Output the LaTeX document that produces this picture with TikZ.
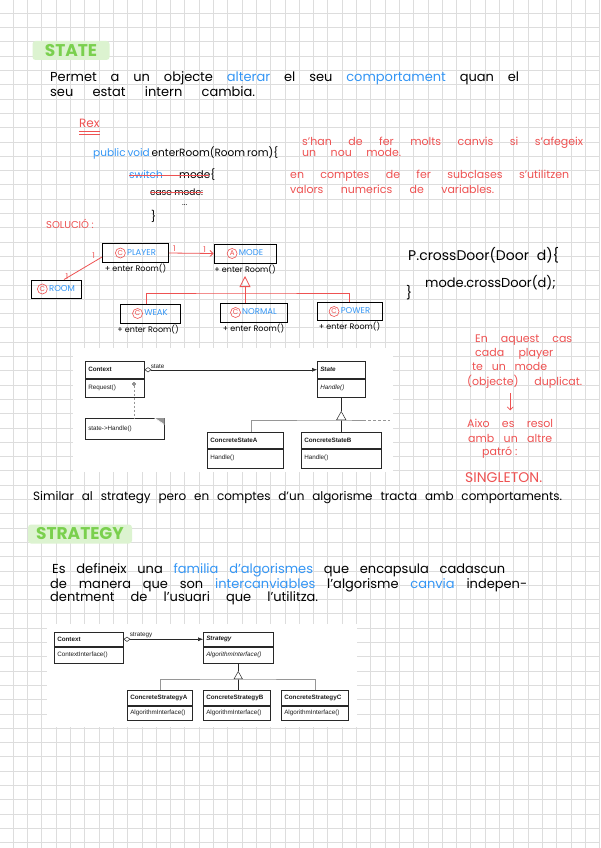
\documentclass[tikz,border=0pt]{standalone}
\usepackage{fontspec}
\setmainfont{Poppins}
\newfontfamily\umlfont{Liberation Sans}
\usetikzlibrary{positioning}
\usetikzlibrary{arrows.meta}

\newcommand{\circletter}[1]{\tikz[baseline=(cl.base)]\node[circle,draw=hred,text=hred,line width=0.6pt,inner sep=0pt,minimum size=10pt,font=\fontsize{7}{7}\selectfont](cl){#1};}
\newcommand{\hb}[1]{\textcolor{hblue}{#1}}
\newcommand{\spread}[2]{\makebox[#1][s]{#2}}

\begin{document}
\begin{tikzpicture}[x=1pt,y=-1pt,
  gridline/.style={draw=gridgray,line width=1pt},
  titlebox/.style={fill=titlebg,rounded corners=3pt,text=titlegreen,minimum height=19pt,inner sep=0pt,font=\bfseries\fontsize{17}{17}\selectfont},
  hand/.style={anchor=base west,inner sep=0pt,font=\fontsize{#1}{#1}\selectfont},
  hand/.default=12,
  rednote/.style={hand=#1,text=hred},
  rednote/.default=11,
  hbox/.style={draw=black,line width=0.9pt,inner sep=0pt,minimum height=19pt,font=\fontsize{8.5}{9}\selectfont},
  meth/.style={inner sep=0pt,font=\fontsize{8}{8}\selectfont},
  one/.style={text=hred,inner sep=1pt,font=\fontsize{8}{8}\selectfont},
  hline/.style={draw=hred,line width=0.8pt},
  umlbg/.style={fill=white,anchor=north west,inner sep=0pt},
  uhead/.style 2 args={draw=umlline,line width=0.5pt,anchor=north west,inner xsep=3pt,inner ysep=0pt,text width=#1,minimum height=#2,align=left,text=umltext,font=\umlfont\bfseries\fontsize{6.3}{7}\selectfont},
  ubody/.style 2 args={uhead={#1}{#2},font=\umlfont\fontsize{6.3}{7}\selectfont},
  ulabel/.style={inner sep=1pt,text=umltext,font=\umlfont\fontsize{6.3}{7}\selectfont},
  uconn/.style={draw=umlline,line width=0.5pt},
  uassoc/.style={uconn,{Diamond[open,length=7pt,width=5pt]}-{Latex[length=5pt,width=4pt]}},
]
\definecolor{gridgray}{RGB}{221,221,221}
\definecolor{hred}{RGB}{238,82,82}
\definecolor{hblue}{RGB}{52,150,245}
\definecolor{titlegreen}{RGB}{122,208,78}
\definecolor{titlebg}{RGB}{220,243,208}
\definecolor{umlline}{RGB}{40,40,40}
\definecolor{umltext}{RGB}{30,30,30}
\definecolor{umlgray}{RGB}{150,150,150}
\fill[white] (0,0) rectangle (600,848);
\useasboundingbox (0,0) rectangle (600,848);
% quadricula
\foreach \i in {0,...,41} \draw[gridline] (13.3+14.3*\i,0) -- (13.3+14.3*\i,848);
\foreach \j in {0,...,58} \draw[gridline] (0,13.3+14.3*\j) -- (600,13.3+14.3*\j);

% STATE
\node[titlebox,minimum width=77pt] (statetitle) at (71,50.5) {STATE};
\node[hand=13] (intro1) at (50,82) {\spread{469pt}{Permet a un objecte \hb{alterar} el seu \hb{comportament} quan el}};
\node[hand=13] (intro2) at (50,97) {\spread{205pt}{seu estat intern cambia.}};
\node[rednote=12] (rex) at (79,128) {Rex};
\draw[hline] ([yshift=-3pt]rex.base west) -- ([yshift=-3pt]rex.base east);
\draw[hline] ([yshift=-6pt]rex.base west) -- ([yshift=-6pt]rex.base east);
\node[hand=10.5] (code1) at (93,157) {\spread{185pt}{\hb{public void} enterRoom(Room rom)\{}};
\node[hand=10.5] (code2) at (129,178) {\spread{86pt}{\hb{switch} mode\{}};
\draw[hline] ([yshift=3pt]code2.base west) -- ([xshift=-6pt,yshift=3pt]code2.base east);
\node[hand=9] (code3) at (150,195) {case mode:};
\draw[hline] ([yshift=2.5pt]code3.base west) -- ([yshift=2.5pt]code3.base east);
\node[hand=8] (code4) at (182,205) {...};
\node[hand=11] (code5) at (151,220) {\}};
\node[rednote] (why1) at (302,145) {\spread{281pt}{s'han de fer molts canvis si s'afegeix}};
\node[rednote] (why2) at (302,157) {\spread{99pt}{un nou mode.}};
\node[rednote] (why3) at (290,178) {\spread{279pt}{en comptes de fer subclases s'utilitzen}};
\node[rednote] (why4) at (290,193) {\spread{204pt}{valors numerics de variables.}};
\node[rednote=10] (solucio) at (46,228) {SOLUCIÓ :};

% diagrama a ma
\node[hbox,minimum width=66pt] (player) at (135.5,253) {\circletter{C}\,\hb{PLAYER}};
\node[hbox,minimum width=62pt] (mode) at (245,253.5) {\circletter{A}\,\hb{MODE}};
\node[hbox,minimum width=50pt,minimum height=18pt] (room) at (56,289) {\circletter{C}\,\hb{ROOM}};
\node[hbox,minimum width=60pt] (weak) at (150,313.5) {\circletter{C}\,\hb{WEAK}};
\node[hbox,minimum width=67pt] (normal) at (253.5,312.5) {\circletter{C}\,\hb{NORMAL}};
\node[hbox,minimum width=65pt,minimum height=18pt] (power) at (349.5,311.5) {\circletter{C}\,\hb{POWER}};
\node[meth,below=1pt of player] (playerm) {+ enter Room()};
\node[meth,below=1pt of mode] (modem) {+ enter Room()};
\node[meth,below=1.5pt of weak,xshift=-2pt] (weakm) {+ enter Room()};
\node[meth,below=1.5pt of normal] (normalm) {+ enter Room()};
\node[meth,below=1pt of power] (powerm) {+ enter Room()};
\draw[hline,-{Straight Barb[length=3pt]}] (player.east) -- (mode.west)
  node[one,pos=0.12,above] {1} node[one,pos=0.8,above] {1};
\draw[hline] ([yshift=-4pt]player.west) -- ([xshift=8pt]room.north)
  node[one,pos=0.15,above left] {1} node[one,pos=0.85,left] {1};
\coordinate (modeinh) at (245,276);
\coordinate (modejoin) at (245,293);
\draw[hline,-{Triangle[open,length=11pt,width=11pt]}] (normal.north -| modeinh) -- (modeinh);
\draw[hline] ([xshift=-4pt]weak.north) |- (modejoin) -| (power.north);
\node[hand=14] (cross1) at (408,260) {\spread{151pt}{P.crossDoor(Door d)\{}};
\node[hand=13] (cross2) at (425,287) {\spread{134pt}{mode.crossDoor(d);}};
\node[hand=13] (cross3) at (406,297) {\}};
\node[rednote] (dup1) at (475,342) {\spread{97pt}{En aquest cas}};
\node[rednote] (dup2) at (475,356) {\spread{78pt}{cada player}};
\node[rednote] (dup3) at (472,370) {\spread{75pt}{te un mode}};
\node[rednote] (dup4) at (467,385) {\spread{115pt}{(objecte) duplicat.}};
\node[rednote] (sol1) at (467,427) {\spread{86pt}{Aixo es resol}};
\node[rednote] (sol2) at (468,442) {\spread{84pt}{amb un altre}};
\node[rednote] (sol3) at (482,455) {patró :};
\node[rednote=14] (singleton) at (465,482) {SINGLETON.};
\draw[hline,-{Straight Barb[length=3pt]}] ([yshift=-5pt]dup4.south -| sol1.north) -- ([yshift=8pt]sol1.north);

% imatge UML state
\node[umlbg,minimum width=320pt,minimum height=124pt] (statebg) at (73,348) {};
\node[uhead={53pt}{17pt}] (ctxh) at (85,361) {Context};
\node[ubody={53pt}{18pt},below=0pt of ctxh] (ctxb) {Request()};
\node[uhead={42pt}{17pt}] (sth) at (317,361) {\itshape State};
\node[ubody={42pt}{18pt},below=0pt of sth] (stb) {\itshape Handle()};
\node[ubody={73pt}{21pt}] (hnote) at (85,418) {state->Handle()};
\node[uhead={70pt}{16pt}] (cah) at (207,432) {ConcreteStateA};
\node[ubody={70pt}{19pt},below=0pt of cah] (cab) {Handle()};
\node[uhead={74pt}{16pt}] (cbh) at (301,432) {ConcreteStateB};
\node[ubody={74pt}{19pt},below=0pt of cbh] (cbb) {Handle()};
\draw[uassoc] (ctxh.east) -- (sth.west) node[ulabel,pos=0,anchor=south west,xshift=5pt] {state};
\coordinate (req) at (134,384);
\draw[uconn] (req) circle (1.5pt);
\draw[uconn,draw=umlgray,dash pattern=on 2pt off 2pt] (req) ++(0,1.5) -- (hnote.north -| req);
\fill[umlgray] (hnote.north east) -- ++(-10,0) -- ++(10,7) -- cycle;
\draw[white,line width=0.6pt] ([xshift=-10pt]hnote.north east) -- ++(9,6);
\coordinate (stapex) at ([yshift=-14pt]stb.south);
\coordinate (stjoin) at ([yshift=-23pt]stb.south);
\draw[uconn] (stb.south) -- (stapex);
\draw[uconn,-{Triangle[open,length=9pt,width=10pt]}] (cbh.north -| stapex) -- (stapex);
\draw[uconn,draw=umlgray] ([xshift=6pt]cah.north) |- (stjoin) -- ++(22,0) coordinate (stdash);
\draw[uconn,draw=umlgray,dash pattern=on 3pt off 2pt] (stdash) -- ++(27,0);

\node[hand] (similar) at (33,500) {\spread{529pt}{Similar al strategy pero en comptes d'un algorisme tracta amb comportaments.}};

% STRATEGY
\node[titlebox,minimum width=104pt] (strattitle) at (80,534) {STRATEGY};
\node[hand=13] (def1) at (52,573) {\spread{453pt}{Es defineix una \hb{familia d'algorismes} que encapsula cadascun}};
\node[hand=13] (def2) at (50,588) {\spread{477pt}{de manera que son \hb{intercanviables} l'algorisme \hb{canvia} indepen-}};
\node[hand=13] (def3) at (50,601) {\spread{268pt}{dentment de l'usuari que l'utilitza.}};

% imatge UML strategy
\node[umlbg,minimum width=310pt,minimum height=103pt] (stratbg) at (47,624) {};
\node[uhead={63pt}{14pt}] (sctxh) at (54,632) {Context};
\node[ubody={63pt}{16pt},below=0pt of sctxh] (sctxb) {ContextInterface()};
\node[uhead={64pt}{14pt}] (sgh) at (203,632) {\itshape Strategy};
\node[ubody={64pt}{16pt},below=0pt of sgh] (sgb) {\itshape AlgorithmInterface()};
\node[uhead={59pt}{15pt}] (sah) at (127,690) {ConcreteStrategyA};
\node[ubody={59pt}{14pt},below=0pt of sah] (sab) {AlgorithmInterface()};
\node[uhead={61pt}{15pt}] (sbh) at (203,690) {ConcreteStrategyB};
\node[ubody={61pt}{14pt},below=0pt of sbh] (sbb) {AlgorithmInterface()};
\node[uhead={61pt}{15pt}] (sch) at (281,690) {ConcreteStrategyC};
\node[ubody={61pt}{14pt},below=0pt of sch] (scb) {AlgorithmInterface()};
\draw[uassoc] (sctxh.east) -- (sgh.west) node[ulabel,pos=0,anchor=south west,xshift=5pt] {strategy};
\coordinate (sgapex) at ([yshift=-8pt]sgb.south);
\coordinate (sgjoin) at ([yshift=-16pt]sgb.south);
\draw[uconn] (sgb.south) -- (sgapex);
\draw[uconn,-{Triangle[open,length=8pt,width=9pt]}] (sbh.north -| sgapex) -- (sgapex);
\draw[uconn,draw=umlgray] (sah.north) |- (sgjoin) -| (sch.north);
\end{tikzpicture}
\end{document}
